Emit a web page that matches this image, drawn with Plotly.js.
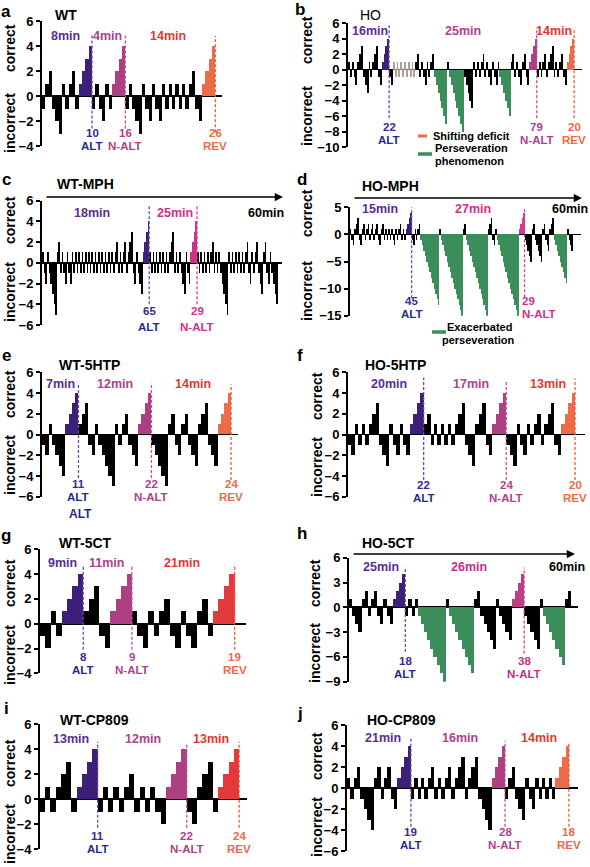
<!DOCTYPE html>
<html><head><meta charset="utf-8">
<script src="https://cdn.plot.ly/plotly-3.0.1.min.js"></script>
<style>html,body{margin:0;padding:0;background:#fff}#chart{width:590px;height:867px}</style>
</head><body><div id="chart"></div>
<script>
// ---------------- DATA (one bar per trial; + = consecutive correct, - = consecutive incorrect) -------------
const WT_bars = [
  ['k',   [-1,1,2,-1,-2,-3,1,-1,1,2,-1]],
  ['alt', [1,2,3,4]],
  ['k',   [-1,1,-1,-2,1,-1]],
  ['nalt',[1,2,3,4]],
  ['k',   [-1,1,-1,-2,-3,1,-1,-2,1,-1,-2,1,-1,1,-1,1,-1,1,-1,1,2,-1,-2]],
  ['rev', [1,2,3,4]]
];
const HO_bars = [
  ['k',   [1,-1,1,-1,-2,1,2,3,-1,-2,-3,1,-1,1,2,3,-1,-2]],
  ['alt', [1,2,3,4]],
  ['k',   [-1,-2]],
  ['gray',[1,-1,1,-1,1,-1,1,-1,1,-1,1,-1]],
  ['k',   [1,2,-1,1,-1,-2,1,-1,1,2]],
  ['per', [-1,-2,-3,-4,-5,-6,-7]],
  ['k',   [1]],
  ['per', [-1,-2,-3,-4,-5,-6,-7,-8]],
  ['k',   [-1,-2,-3,-4,-5]],
  ['k',   [1,-1,1,-1,1,2,-1,1,-1,-2,1,-1,-2,1]],
  ['per', [-1,-2,-3,-4,-5,-6]],
  ['k',   [1,2,-1,1,-1,-2,1,2,-1,-2]],
  ['nalt',[1,2,3,4]],
  ['k',   [-1,1,-1,1,2,-1,1,2,3,-1,1,-1,1,2,-1,-2]],
  ['rev', [1,2,3,4]]
];
const WT_MPH_bars = [
  ['k',   [1,-1,-2,1,-1,-2,-3,-4,-5,1,2, -1,1,-1,-2,1,-1,-2,1,
           -1,1,-1,1,-1,1,-1,1,-1,1,-1,1,-1,1,-1,1,-1,1,-1,1,-1,1,-1,1,-1,1,
           2,-1,1,-1,1,2,-1,1,2,3,-1,-2,1,-1,-2,-3]],
  ['alt', [1,2,3,4]],
  ['k',   [1,-1,1,-1,1,-1,1,-1,1,-1,1,-1,1,2,3,-1,1,-1,1,-1,-2,-3,1,-1,-2]],
  ['nalt',[1,2,3,4]],
  ['k',   [1,-1,1,-1,1,-1,1,-1,1,2,-1,1,-1,1,-1,-2,-3,-4,-5,1,-1,1,-1,1,-1,1,-1,1,-1,
           1,2,-1,-2,1,-1,1,2,-1,-2,-3,1,2,-1,-2,1,-1,-2,-3,-4]]
];
const HO_MPH_bars = [
  ['k',   [1,-1,-2,1,2,3,-1,-2,1,2,-1,1,2,-1,1,2,-1,1,2,-1,-2,1,2,-1,1,-1,1,-1,1,-1,-2,1,-1,1,2,-1,1,-1]],
  ['alt', [1,2,3,4]],
  ['k',   [-1,-2,1,-1,1,2]],
  ['per', [-1,-2,-3,-4,-5,-6,-7,-8,-9,-10,-11,-12,-13]],
  ['k',   [1]],
  ['per', [-1,-2,-3,-4,-5,-6,-7,-8,-9,-10,-11,-12,-13,-14,-15]],
  ['k',   [1,2]],
  ['per', [-1,-2,-3,-4,-5,-6,-7,-8,-9,-10,-11,-12,-13,-14,-15]],
  ['k',   [1,2,3,-1,-2,1]],
  ['per', [-1,-2,-3,-4,-5,-6,-7,-8,-9,-10,-11,-12,-13,-14,-15]],
  ['nalt',[1,2,3,4]],
  ['k',   [-1,-2,-3,-4,-5,1,2,-1,-2,-3,-4,-5,1,2,-1,-2,-3,1,2,3]],
  ['per', [-1,-2,-3,-4,-5,-6,-7,-8,-9]],
  ['k',   [1,-1,-2,-3]]
];
const WT_5HTP_bars = [
  ['k',   [-1,-2,1,-1,-2,-3,-4]],
  ['alt', [1,2,3,4]],
  ['k',   [1,2,3,-1,-2,1,-1,-2,-3,-4,-5,1,-1,1,2,-1,-2,-3]],
  ['nalt',[1,2,3,4]],
  ['k',   [-1,-2,-3,-4,-5,1,2,-1,-2,1,2,-1,-2,-3,1,2,3,-1,-2,-3]],
  ['rev', [1,2,3,4]]
];
const HO_5HTP_bars = [
  ['k',   [-1,-2,1,-1,1,-1,1,2,3,-1,-2,-3,1,-1,-2,1,-1,-2]],
  ['alt', [1,2,3,4]],
  ['k',   [1,2,-1,1,-1,1,-1,1,-1,1,2,3,-1,-2,-3,1,2,3,-1,-2]],
  ['nalt',[1,2,3,4]],
  ['k',   [-1,-2,-3,1,-1,-2,1,-1,1,2,-1,1,2,3,-1,-2]],
  ['rev', [1,2,3,4]]
];
const WT_5CT_bars = [
  ['k',   [-1,-2,1,-1]],
  ['alt', [1,2,3,4]],
  ['k',   [1,2,3,-1,-2]],
  ['nalt',[1,2,3,4]],
  ['k',   [1,-1,-2,1,-1,1,2,-1,-2,1,-1,-2,1,2,-1]],
  ['rev', [1,2,3,4]]
];
const HO_5CT_bars = [
  ['k',   [1,-1,-2,-3,1,2,-1,1,2,-1,-2,1,-1,-2]],
  ['alt', [1,2,3,4]],
  ['k',   [-1,1,-1,1]],
  ['per', [-1,-2,-3,-4,-5,-6,-7,-8,-9]],
  ['k',   [1]],
  ['per', [-1,-2,-3,-4,-5,-6,-7,-8]],
  ['k',   [1,2,-1,-2,-3,-4,-5,1,-1,-2,-3,-4]],
  ['nalt',[1,2,3,4]],
  ['k',   [-1,-2,-3,-4,-5,1]],
  ['per', [-1,-2,-3,-4,-5,-6,-7]],
  ['k',   [1,2]]
];
const WT_CP809_bars = [
  ['k',   [-1,1,-1,1,2,3,-1]],
  ['alt', [1,2,3,4]],
  ['k',   [-1,1,-1,1,-1,1,2,-1,1,-1,1,-1,-2]],
  ['nalt',[1,2,3,4]],
  ['k',   [-1,-2,1,2,3,-1]],
  ['rev', [1,2,3,4]]
];
const HO_CP809_bars = [
  ['k',   [1,-1,1,2,-1,-2,-3,-4,1,2,-1,1,2,-1,-2]],
  ['alt', [1,2,3,4]],
  ['k',   [-1,1,-1,1,-1,1,2,-1,1,-1,1,2,-1,1,2,3,-1,1,2,3,-1,-2,-3,-4]],
  ['nalt',[1,2,3,4]],
  ['k',   [-1,1,2,-1,-2,-3,1,-1,-2,1,-1,1,-1,1,-1]],
  ['rev', [1,2,3,4]]
];
// phase durations and trial counts shown as labels
const phaseMinutes = {
  a:['8min','4min','14min'], b:['16min','25min','14min'], c:['18min','25min','60min'], d:['15min','27min','60min'],
  e:['7min','12min','14min'], f:['20min','17min','13min'], g:['9min','11min','21min'], h:['25min','26min','60min'],
  i:['13min','12min','13min'], j:['21min','16min','14min']
};
const phaseTrials = {
  a:['10','16','26'], b:['22','79','20'], c:['65','29'], d:['45','29'], e:['11','22','24'],
  f:['22','24','20'], g:['8','9','19'], h:['18','38'], i:['11','22','24'], j:['19','28','18']
};
const phaseNames = ['ALT','N-ALT','REV'];

// ---------------- STYLE / LAYOUT ----------------
const W = 590, H = 867;
const FONT = '"Liberation Sans", Arial, sans-serif';
const PAL = {k:'#000000', alt:'#3c1f77', nalt:'#ad4082', rev:'#ec6b49', per:'#3b8e5a', gray:'#a3a3a3'};
const TXT = {altTop:'#5b2d91', altNum:'#3a2a8c', altName:'#1f2a8f', nalt:'#b0418a', revTop:'#e8362e', rev:'#ea6a45'};
const DASH = {alt:'#6a4ca8', nalt:'#c0509a', rev:'#ee5a40'};

const panels = [
 {id:'a', name:'WT', bars:WT_bars, x0:42, x1:222, yTop:21, yBot:146, ymin:-4, ymax:6, dtick:2, xEnd:53.5,
  title:[53,15], letter:[6,11], ylab:[10,48,123], top:[[65,36],[107,36],[168,36]],
  marks:{alt:[5.0,-2.6], nalt:[5.0,-2.6], rev:[4.8,-2.9]}, yNum:133, yName:146},
 {id:'b', name:'HO', bars:HO_bars, x0:348, x1:582, yTop:23, yBot:147, ymin:-10, ymax:6, dtick:2, xEnd:124.7,
  title:[358,15], titleRegular:true, letter:[300,10], ylab:[307,40,116], top:[[370,31],[463,31],[554,31]],
  marks:{alt:[6.0,-6.3], nalt:[5.4,-6.3], rev:[5.4,-6.3]}, yNum:127, yName:140},
 {id:'c', name:'WT-MPH', bars:WT_MPH_bars, x0:42, x1:282, yTop:200.7, yBot:325, ymin:-6, ymax:6, dtick:2, xEnd:145,
  title:[55,184], letter:[6,180], ylab:[10,220,292], top:[[92,213],[175,213],[266,213]], arrow:[45,283,197],
  pal:{nalt:'#d0308c'}, naltText:'#d0308c', dashN:'#de3a98',
  marks:{alt:[5.6,-4.0], nalt:[5.6,-4.0]}, yNum:311, yName:327},
 {id:'d', name:'HO-MPH', bars:HO_MPH_bars, x0:350, x1:581, yTop:207.3, yBot:315.7, ymin:-15, ymax:5, dtick:5, xEnd:157,
  title:[360,186], letter:[302,180], ylab:[307,213,291], top:[[380,209],[473,209],[570,209]], arrow:[353,582,198],
  pal:{nalt:'#d03b8c'}, naltText:'#d0308c', dashN:'#de3a98',
  marks:{alt:[5.0,-11.8], nalt:[4.8,-11.6]}, yNum:301, yName:314, shift:{nalt:[4,14]}},
 {id:'e', name:'WT-5HTP', bars:WT_5HTP_bars, x0:42, x1:238, yTop:372.3, yBot:496.7, ymin:-6, ymax:6, dtick:2, xEnd:58.6,
  title:[57,365], letter:[6,355], ylab:[10,394,465], top:[[60,384],[115,384],[193,384]],
  marks:{alt:[5.0,-4.2], nalt:[5.0,-4.2], rev:[4.85,-4.4]}, yNum:484, yName:497},
 {id:'f', name:'HO-5HTP', bars:HO_5HTP_bars, x0:348, x1:585, yTop:372.3, yBot:496.7, ymin:-6, ymax:6, dtick:2, xEnd:68.4,
  title:[363,365], letter:[300,355], ylab:[317,396,467], top:[[389,384],[471,384],[548,384]],
  marks:{alt:[5.5,-4.4], nalt:[5.1,-4.4], rev:[5.4,-4.4]}, yNum:485, yName:498},
 {id:'g', name:'WT-5CT', bars:WT_5CT_bars, x0:40, x1:246, yTop:549.3, yBot:673.3, ymin:-4, ymax:6, dtick:2, xEnd:37.6,
  title:[57,543], letter:[6,535], ylab:[10,583,655], top:[[62,563],[106,563],[182,563]],
  pal:{rev:'#e2393a'},
  marks:{alt:[4.75,-2.1], nalt:[4.75,-2.1], rev:[4.6,-2.1]}, yNum:657, yName:670},
 {id:'h', name:'HO-5CT', bars:HO_5CT_bars, x0:349, x1:578, yTop:557.7, yBot:681.7, ymin:-9, ymax:6, dtick:3, xEnd:72.7,
  title:[360,543], letter:[302,533], ylab:[315,583,653], top:[[381,567],[469,567],[567,567]], arrow:[352,575,554],
  pal:{nalt:'#c03d88'}, naltText:'#c0308a',
  marks:{alt:[4.9,-5.4], nalt:[4.8,-5.6]}, yNum:661, yName:674},
 {id:'i', name:'WT-CP809', bars:WT_CP809_bars, x0:40, x1:247, yTop:724.3, yBot:849, ymin:-4, ymax:6, dtick:2, xEnd:39,
  title:[58,720], letter:[6,708], ylab:[10,763,834], top:[[71,739],[143,739],[211,739]],
  pal:{rev:'#e2393a'},
  marks:{alt:[4.6,-2.3], nalt:[4.5,-2.3], rev:[4.6,-2.3]}, yNum:836, yName:849},
 {id:'j', name:'HO-CP809', bars:HO_CP809_bars, x0:347, x1:578, yTop:725, yBot:851, ymin:-6, ymax:6, dtick:2, xEnd:68.2,
  title:[365,720], letter:[300,713], ylab:[317,756,827], top:[[383,738],[460,738],[539,738]],
  marks:{alt:[4.75,-3.7], nalt:[4.5,-3.7], rev:[4.4,-3.7]}, yNum:832, yName:845}
];

const px = v => v / W, py = v => 1 - v / H;
function txt(t, x, y, color, size, o) {
  return Object.assign({text:(o && o.regular) ? t : '<b>'+t+'</b>', x:px(x), y:py(y), xref:'paper', yref:'paper',
    showarrow:false, xanchor:'center', yanchor:'middle', font:{family:FONT, size:size, color:color}}, o && o.extra || {});
}

const traces = [], annotations = [], shapes = [];
const layout = {width:W, height:H, margin:{l:0,r:0,t:0,b:0}, paper_bgcolor:'#fff', plot_bgcolor:'rgba(0,0,0,0)',
  bargap:0, showlegend:false, font:{family:FONT}};

panels.forEach((p, i) => {
  const sfx = i === 0 ? '' : String(i + 1);
  const xa = 'x' + sfx, ya = 'y' + sfx;
  const x = [], y = [], c = [], ends = {}, starts = {};
  let n = 0;
  p.bars.forEach(([code, vals]) => {
    starts[code] = n;
    vals.forEach(v => { x.push(n); y.push(v); c.push((p.pal && p.pal[code]) || PAL[code]); n++; });
    ends[code] = n - 1;
  });
  traces.push({type:'bar', x:x, y:y, width:1, xaxis:xa, yaxis:ya, hoverinfo:'skip',
    marker:{color:c, line:{width:0}}});
  layout['xaxis' + sfx] = {domain:[px(p.x0), px(p.x1)], range:[-0.5, p.xEnd], anchor:ya,
    showgrid:false, zeroline:false, showline:false, showticklabels:false, ticks:'', fixedrange:true};
  layout['yaxis' + sfx] = {domain:[py(p.yBot), py(p.yTop)], range:[p.ymin, p.ymax], anchor:xa,
    tick0:0, dtick:p.dtick, showgrid:false, showline:true, linecolor:'#000', linewidth:2,
    ticks:'outside', ticklen:4, tickwidth:2, tickcolor:'#000',
    zeroline:true, zerolinecolor:'#000', zerolinewidth:1.6,
    tickfont:{family:FONT, size:13, color:'#000', weight:'bold'}, fixedrange:true};

  // letters, titles, y labels
  annotations.push(txt(p.id, p.letter[0], p.letter[1], '#000', 17));
  annotations.push(txt(p.name, p.title[0], p.title[1], '#000', 14, {regular:!!p.titleRegular, extra:{xanchor:'left'}}));
  annotations.push(txt('correct', p.ylab[0], p.ylab[1], '#000', 14, {extra:{textangle:-90}}));
  annotations.push(txt('incorrect', p.ylab[0], p.ylab[2], '#000', 14, {extra:{textangle:-90}}));

  // phase durations on top
  const mins = phaseMinutes[p.id];
  const naltC = p.naltText || TXT.nalt;
  const topCols = [TXT.altTop, naltC, p.arrow ? '#000' : TXT.revTop];
  p.top.forEach((pos, k) => annotations.push(txt(mins[k], pos[0], pos[1], topCols[k], 12.5)));

  // arrow (60 min sessions)
  if (p.arrow) {
    annotations.push({x:px(p.arrow[1]), y:py(p.arrow[2]), xref:'paper', yref:'paper', text:'',
      showarrow:true, ax:p.arrow[0] - p.arrow[1], ay:0, axref:'pixel', ayref:'pixel',
      arrowhead:2, arrowsize:1.1, arrowwidth:1.5, arrowcolor:'#000', standoff:0});
  }

  // dashed criterion lines + trial counts
  const trials = phaseTrials[p.id];
  ['alt','nalt','rev'].forEach((ph, k) => {
    if (!p.marks[ph]) return;
    const xe = ends[ph] + 0.5;
    const dcol = ph === 'nalt' ? (p.dashN || DASH.nalt) : DASH[ph];
    shapes.push({type:'line', xref:xa, yref:ya, x0:xe, x1:xe, y0:p.marks[ph][1], y1:p.marks[ph][0],
      line:{color:dcol, width:1.3, dash:'3px,2px'}});
    const sh = (p.shift && p.shift[ph]) || [0,0];
    const numCol = ph === 'alt' ? TXT.altNum : ph === 'nalt' ? naltC : TXT.rev;
    const nameCol = ph === 'alt' ? TXT.altName : ph === 'nalt' ? naltC : TXT.rev;
    annotations.push({text:'<b>'+trials[k]+'</b>', x:xe, xref:xa, y:py(p.yNum), yref:'paper', xshift:sh[0],
      showarrow:false, xanchor:'center', yanchor:'middle', font:{family:FONT, size:11.5, color:numCol}});
    annotations.push({text:'<b>'+phaseNames[k]+'</b>', x:xe, xref:xa, y:py(p.yName), yref:'paper', xshift:sh[1],
      showarrow:false, xanchor:'center', yanchor:'middle', font:{family:FONT, size:11.5, color:nameCol}});
  });

  // shifting-deficit marker on the zero line (panel b)
  if (starts.gray !== undefined) {
    shapes.push({type:'line', xref:xa, yref:ya, x0:starts.gray - 0.5, x1:ends.gray + 0.5, y0:0, y1:0,
      line:{color:'#ec6b49', width:1.4}});
  }
});

// legends
shapes.push({type:'line', xref:'paper', yref:'paper', x0:px(418), x1:px(427), y0:py(136), y1:py(136), line:{color:'#ec6b49', width:3}});
annotations.push(txt('Shifting deficit', 431, 136, '#000', 11, {extra:{xanchor:'left'}}));
shapes.push({type:'line', xref:'paper', yref:'paper', x0:px(418), x1:px(432), y0:py(154), y1:py(154), line:{color:'#3b8e5a', width:3.5}});
annotations.push(txt('Perseveration', 433, 148, '#000', 11, {extra:{xanchor:'left'}}));
annotations.push(txt('phenomenon', 433, 161, '#000', 11, {extra:{xanchor:'left'}}));
shapes.push({type:'line', xref:'paper', yref:'paper', x0:px(432), x1:px(446), y0:py(332), y1:py(332), line:{color:'#3b8e5a', width:3.5}});
annotations.push(txt('Exacerbated', 479, 327, '#000', 11));
annotations.push(txt('perseveration', 478, 340, '#000', 11));
// stray label in original figure
annotations.push(txt('ALT', 80, 514, TXT.altName, 12));

layout.annotations = annotations;
layout.shapes = shapes;
Plotly.newPlot('chart', traces, layout, {staticPlot:true, displayModeBar:false});
</script>
</body></html>
